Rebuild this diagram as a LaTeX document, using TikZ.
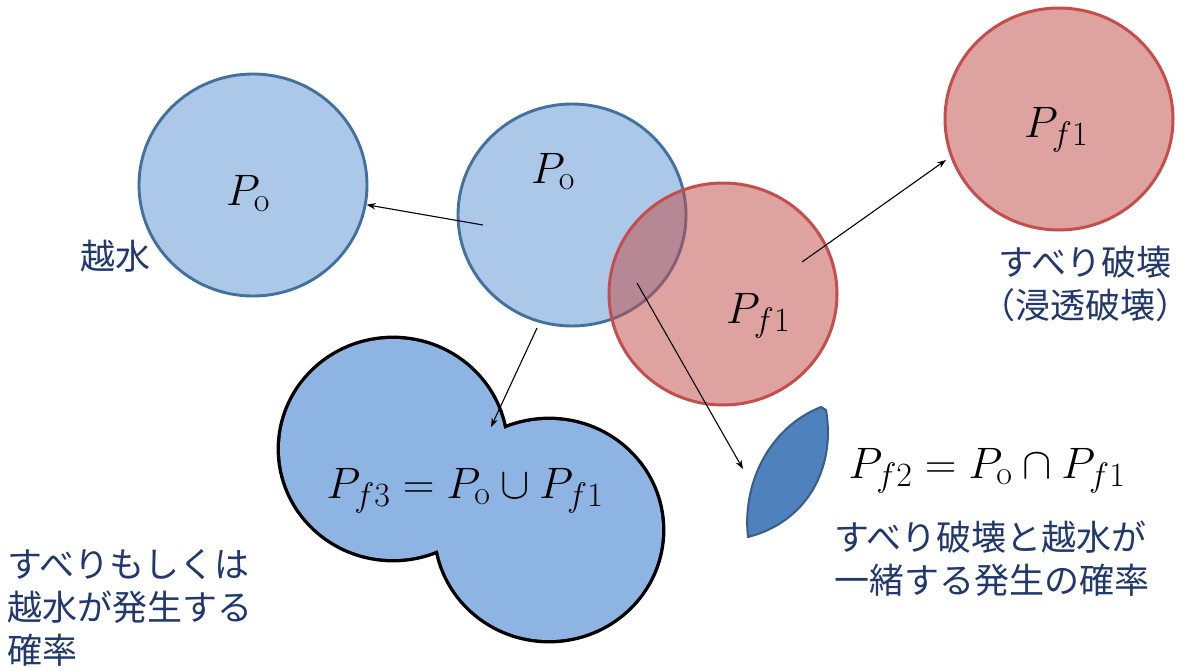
\RequirePackage{fix-cm}
\documentclass[tikz,border=0pt]{standalone}
\usepackage{fontspec}
\newfontfamily\jp{Noto Sans CJK JP}
\usetikzlibrary{shapes.geometric,arrows.meta}
\DeclareMathSizes{44}{44}{34}{26}
\definecolor{blueFill}{RGB}{172,200,233}
\definecolor{blueLine}{RGB}{65,113,156}
\definecolor{redFill}{RGB}{192,80,77}
\definecolor{redLine}{RGB}{196,78,76}
\definecolor{unionFill}{RGB}{142,180,227}
\definecolor{lensFill}{RGB}{79,129,189}
\definecolor{lensLine}{RGB}{56,93,138}
\definecolor{textNavy}{RGB}{32,56,110}
\begin{document}
\begin{tikzpicture}[x=1pt,y=-1pt,
  bluecirc/.style={ellipse, draw=blueLine, fill=blueFill, line width=2.9pt,
    minimum width=228pt, minimum height=222pt, inner sep=0pt},
  redcirc/.style={ellipse, draw=redLine, fill=redFill, fill opacity=0.53, draw opacity=1,
    line width=3pt, minimum width=228pt, minimum height=222pt, inner sep=0pt},
  mathlbl/.style={inner sep=0pt, font=\fontsize{44}{50}\selectfont},
  jptext/.style={inner sep=0pt, text=textNavy, font=\jp\fontsize{35}{43}\selectfont},
  arr/.style={-{Stealth[length=9pt,width=6.5pt]}, line width=1.1pt, black}]
\useasboundingbox (0,0) rectangle (1193,670);

% circles
\node[bluecirc] (po1) at (253,185) {};
\node[bluecirc] (po2) at (572,215) {};
\node[redcirc] (pf1a) at (723,294) {};
\node[redcirc] (pf1b) at (1059,119) {};

% union shape
\draw[line width=6.8pt, black] (393,449) ellipse [x radius=113, y radius=110];
\draw[line width=6.8pt, black] (549,530) ellipse [x radius=113, y radius=110];
\fill[unionFill] (393,449) ellipse [x radius=113, y radius=110]
                 (549,530) ellipse [x radius=113, y radius=110];

% lens shape
\draw[draw=lensLine, fill=lensFill, line width=2pt, line join=round]
  (821,407) .. controls (768,428) and (742,485) .. (748,537)
            .. controls (807,522) and (836,468) .. (826,410) -- cycle;

% arrows
\coordinate (a1s) at (483,225);
\coordinate (a2s) at (537,328);
\coordinate (a2e) at (491,427);
\coordinate (a3s) at (637,283);
\coordinate (a3e) at (743,469);
\coordinate (a4s) at (802,262);
\coordinate (a4e) at (946,160);
\draw[arr] (a1s) -- (po1);
\draw[arr] (a2s) -- (a2e);
\draw[arr] (a3s) -- (a3e);
\draw[arr] (a4s) -- (a4e);

% math labels
\node[mathlbl, anchor=base west] (lPo1) at (226,205) {$P_{\mathrm{o}}$};
\node[mathlbl, anchor=base west] (lPo2) at (531,183) {$P_{\mathrm{o}}$};
\node[mathlbl, anchor=base west] (lPf1a) at (726,323) {$P_{f1}$};
\node[mathlbl, anchor=base west] (lPf1b) at (1024,137) {$P_{f1}$};
\node[mathlbl, anchor=base] (lUnion) at (465,498) {$P_{f3} = P_{\mathrm{o}} \cup P_{f1}$};
\node[mathlbl, anchor=base] (lInter) at (987,478) {$P_{f2} = P_{\mathrm{o}} \cap P_{f1}$};

% Japanese texts
\node[jptext, anchor=west] (tOver) at (80,256) {越水};
\node[jptext, anchor=north, align=center] (tSlip) at (1085,246) {すべり破壊\\（浸透破壊）};
\node[jptext, anchor=north west, align=left] (tBoth) at (834,521) {すべり破壊と越水が\\一緒する発生の確率};
\node[jptext, anchor=north west, align=left] (tEither) at (7,549) {すべりもしくは\\越水が発生する\\確率};
\end{tikzpicture}
\end{document}
